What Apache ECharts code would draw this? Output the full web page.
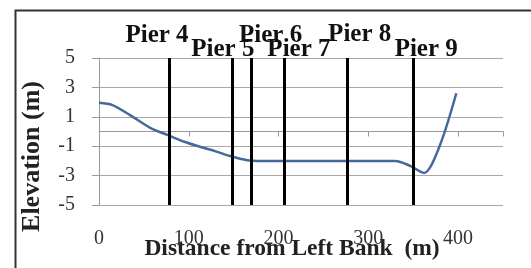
<!DOCTYPE html>
<html>
<head>
<meta charset="utf-8">
<script src="https://cdn.jsdelivr.net/npm/echarts@6/dist/echarts.min.js"></script>
<style>
  html, body { margin: 0; padding: 0; background: #fff; }
  #chart { width: 531px; height: 268px; }
</style>
</head>
<body>
<div id="chart"></div>
<script>
// cross-section profile (distance m, elevation m)
const distance = [0, 15, 35, 57, 77, 95, 113, 130, 146, 165, 180, 330, 347, 362, 379, 398];
const elevation = [1.95, 1.8, 1.1, 0.25, -0.25, -0.7, -1.05, -1.35, -1.67, -1.95, -2.0, -2.0, -2.35, -2.82, -1.05, 2.6];

// pier locations
const pierNames = ['Pier 4', 'Pier 5', 'Pier 6', 'Pier 7', 'Pier 8', 'Pier 9'];
const pierX = [78, 148, 170, 206, 277, 350];

// axis ticks
const xTicks = [0, 100, 200, 300, 400];
const yTicks = [-5, -3, -1, 1, 3, 5];

// label nudges (px) so the pier names sit like the original text boxes
const pierLabelShift = [[-12, -5], [-9, 9], [19, -5], [15, 9], [12, -6], [13, 9]];

const chart = echarts.init(document.getElementById('chart'));

const serif = 'Liberation Serif';

const option = {
    backgroundColor: '#fff',
    animation: false,
    graphic: [{
        type: 'rect',
        left: 13, top: 8,
        shape: { width: 530, height: 300 },
        style: { fill: 'none', stroke: '#333', lineWidth: 2 }
    }],
    grid: { left: 99, right: 28, top: 58, bottom: 63, outerBoundsMode: 'none', containLabel: false },
    xAxis: {
        type: 'value',
        min: 0,
        max: 450,
        interval: 100,
        name: 'Distance from Left Bank  (m)',
        nameLocation: 'middle',
        nameGap: 32,
        nameMoveOverlap: false,
        nameTextStyle: {
            fontFamily: serif, fontWeight: 'bold', fontSize: 23.5, color: '#222',
            padding: [0, 18, 0, 0]
        },
        axisLine: { lineStyle: { color: '#999' } },
        axisTick: {
            show: true, length: 5, lineStyle: { color: '#999' },
            interval: (i, v) => xTicks.includes(Number(v))
        },
        axisLabel: {
            margin: 24,
            fontFamily: serif, fontSize: 20, color: '#333',
            formatter: v => (xTicks.includes(v) ? String(v) : '')
        },
        splitLine: { show: false }
    },
    yAxis: {
        type: 'value',
        min: yTicks[0],
        max: yTicks[yTicks.length - 1],
        interval: 2,
        name: 'Elevation (m)',
        nameLocation: 'middle',
        nameGap: 54,
        nameMoveOverlap: false,
        nameTextStyle: {
            fontFamily: serif, fontWeight: 'bold', fontSize: 26, color: '#222',
            padding: [0, 50, 0, 0]
        },
        axisLine: { show: true, lineStyle: { color: '#999' } },
        axisTick: { show: true, length: 7, lineStyle: { color: '#999' } },
        axisLabel: { margin: 24, fontFamily: serif, fontSize: 20, color: '#333' },
        splitLine: { show: true, lineStyle: { color: '#a8a8a8', width: 1 } }
    },
    series: [{
        type: 'line',
        data: distance.map((d, i) => [d, elevation[i]]),
        smooth: 0.3,
        showSymbol: false,
        lineStyle: { color: '#46699b', width: 2.5 },
        markLine: {
            silent: true,
            symbol: 'none',
            lineStyle: { color: '#000', width: 3, type: 'solid' },
            data: pierX.map((x, i) => [
                {
                    coord: [x, yTicks[0]],
                    label: {
                        show: true,
                        position: 'end',
                        formatter: pierNames[i],
                        offset: pierLabelShift[i],
                        fontFamily: serif, fontWeight: 'bold', fontSize: 25, color: '#111'
                    }
                },
                { coord: [x, yTicks[yTicks.length - 1]] }
            ])
        }
    }]
};

chart.setOption(option);
</script>
</body>
</html>
